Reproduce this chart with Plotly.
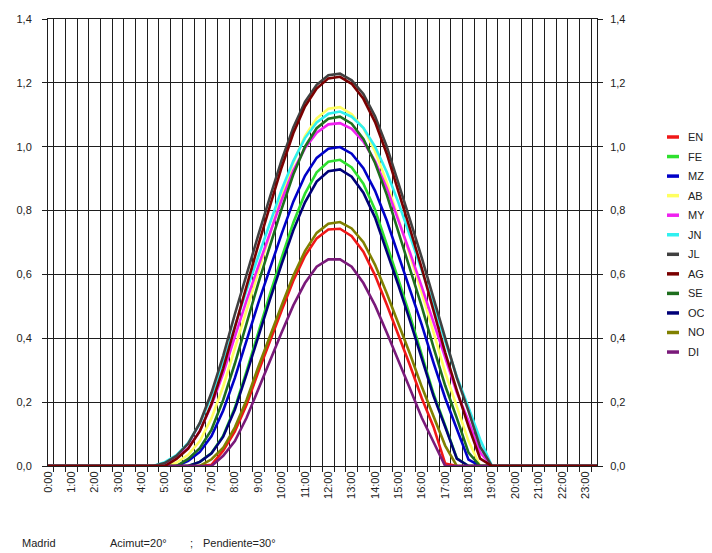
import plotly.graph_objects as go

# Half-hour categories (x axis)
TIMES = ["0:00", "0:30", "1:00", "1:30", "2:00", "2:30", "3:00", "3:30",
         "4:00", "4:30", "5:00", "5:30", "6:00", "6:30", "7:00", "7:30",
         "8:00", "8:30", "9:00", "9:30", "10:00", "10:30", "11:00", "11:30",
         "12:00", "12:30", "13:00", "13:30", "14:00", "14:30", "15:00", "15:30",
         "16:00", "16:30", "17:00", "17:30", "18:00", "18:30", "19:00", "19:30",
         "20:00", "20:30", "21:00", "21:30", "22:00", "22:30", "23:00", "23:30"]
HOUR_LABELS = ["0:00", "1:00", "2:00", "3:00", "4:00", "5:00", "6:00", "7:00",
               "8:00", "9:00", "10:00", "11:00", "12:00", "13:00", "14:00", "15:00",
               "16:00", "17:00", "18:00", "19:00", "20:00", "21:00", "22:00", "23:00"]

Y_TICKS = [0.0, 0.2, 0.4, 0.6, 0.8, 1.0, 1.2, 1.4]

MONTHS = ["EN", "FE", "MZ", "AB", "MY", "JN", "JL", "AG", "SE", "OC", "NO", "DI"]

EN = [0, 0, 0, 0, 0, 0, 0, 0, 0, 0, 0, 0, 0, 0,
      0.004, 0.048, 0.108, 0.192, 0.294, 0.393, 0.487, 0.580, 0.658, 0.713, 0.741, 0.743,
      0.720, 0.671, 0.597, 0.506, 0.412, 0.314, 0.212, 0.123, 0.008,
      0, 0, 0, 0, 0, 0, 0, 0, 0, 0, 0, 0, 0]
FE = [0, 0, 0, 0, 0, 0, 0, 0, 0, 0, 0, 0, 0,
      0.013, 0.041, 0.095, 0.183, 0.297, 0.420, 0.538, 0.652, 0.762, 0.853, 0.920, 0.953,
      0.959, 0.935, 0.884, 0.803, 0.697, 0.584, 0.469, 0.347, 0.227, 0.127, 0.024,
      0, 0, 0, 0, 0, 0, 0, 0, 0, 0, 0, 0]
MZ = [0, 0, 0, 0, 0, 0, 0, 0, 0, 0, 0, 0,
      0.016, 0.044, 0.094, 0.174, 0.276, 0.395, 0.510, 0.618, 0.727, 0.828, 0.909, 0.965,
      0.994, 0.999, 0.978, 0.933, 0.862, 0.769, 0.661, 0.553, 0.442, 0.324, 0.213, 0.116,
      0.020, 0, 0, 0, 0, 0, 0, 0, 0, 0, 0, 0]
AB = [0, 0, 0, 0, 0, 0, 0, 0, 0, 0, 0,
      0.010, 0.035, 0.078, 0.150, 0.249, 0.368, 0.494, 0.613, 0.729, 0.846, 0.951, 1.033,
      1.089, 1.119, 1.124, 1.102, 1.058, 0.986, 0.889, 0.776, 0.659, 0.543, 0.419, 0.293,
      0.186, 0.078, 0, 0, 0, 0, 0, 0, 0, 0, 0, 0, 0]
MY = [0, 0, 0, 0, 0, 0, 0, 0, 0, 0,
      0.005, 0.026, 0.056, 0.110, 0.191, 0.290, 0.405, 0.519, 0.625, 0.730, 0.833, 0.925,
      0.995, 1.044, 1.070, 1.074, 1.056, 1.016, 0.955, 0.871, 0.772, 0.667, 0.561, 0.450,
      0.336, 0.230, 0.141, 0.042, 0, 0, 0, 0, 0, 0, 0, 0, 0, 0]
JN = [0, 0, 0, 0, 0, 0, 0, 0, 0, 0,
      0.012, 0.034, 0.072, 0.133, 0.220, 0.323, 0.438, 0.551, 0.656, 0.761, 0.865, 0.955,
      1.027, 1.076, 1.103, 1.110, 1.094, 1.059, 1.000, 0.921, 0.825, 0.719, 0.614, 0.506,
      0.392, 0.280, 0.183, 0.083, 0, 0, 0, 0, 0, 0, 0, 0, 0, 0]
JL = [0, 0, 0, 0, 0, 0, 0, 0, 0, 0,
      0.009, 0.032, 0.070, 0.135, 0.230, 0.345, 0.476, 0.603, 0.723, 0.842, 0.958, 1.060,
      1.140, 1.194, 1.224, 1.229, 1.208, 1.165, 1.095, 1.001, 0.889, 0.770, 0.652, 0.528,
      0.397, 0.276, 0.172, 0.060, 0, 0, 0, 0, 0, 0, 0, 0, 0, 0]
AG = [0, 0, 0, 0, 0, 0, 0, 0, 0, 0, 0,
      0.022, 0.054, 0.109, 0.195, 0.306, 0.436, 0.569, 0.692, 0.814, 0.935, 1.042, 1.126,
      1.182, 1.214, 1.219, 1.197, 1.150, 1.077, 0.978, 0.863, 0.741, 0.619, 0.490, 0.356,
      0.237, 0.124, 0.023, 0, 0, 0, 0, 0, 0, 0, 0, 0, 0]
SE = [0, 0, 0, 0, 0, 0, 0, 0, 0, 0, 0, 0,
      0.022, 0.056, 0.114, 0.207, 0.321, 0.449, 0.572, 0.689, 0.805, 0.913, 1.000, 1.058,
      1.088, 1.094, 1.072, 1.024, 0.949, 0.850, 0.735, 0.619, 0.499, 0.372, 0.252, 0.150,
      0.042, 0, 0, 0, 0, 0, 0, 0, 0, 0, 0, 0]
OC = [0, 0, 0, 0, 0, 0, 0, 0, 0, 0, 0, 0, 0,
      0.013, 0.040, 0.092, 0.177, 0.288, 0.407, 0.521, 0.632, 0.738, 0.826, 0.891, 0.923,
      0.929, 0.906, 0.856, 0.778, 0.675, 0.566, 0.454, 0.336, 0.220, 0.123, 0.023,
      0, 0, 0, 0, 0, 0, 0, 0, 0, 0, 0, 0]
NO = [0, 0, 0, 0, 0, 0, 0, 0, 0, 0, 0, 0, 0, 0,
      0.021, 0.057, 0.121, 0.207, 0.310, 0.409, 0.503, 0.596, 0.673, 0.730, 0.759, 0.764,
      0.744, 0.701, 0.630, 0.541, 0.446, 0.350, 0.248, 0.153, 0.064,
      0, 0, 0, 0, 0, 0, 0, 0, 0, 0, 0, 0, 0]
DI = [0, 0, 0, 0, 0, 0, 0, 0, 0, 0, 0, 0, 0, 0,
      0, 0.032, 0.078, 0.151, 0.241, 0.332, 0.418, 0.503, 0.573, 0.624, 0.647, 0.647,
      0.624, 0.573, 0.503, 0.418, 0.332, 0.241, 0.151, 0.073,
      0, 0, 0, 0, 0, 0, 0, 0, 0, 0, 0, 0, 0, 0]

SERIES = {"EN": EN, "FE": FE, "MZ": MZ, "AB": AB, "MY": MY, "JN": JN,
          "JL": JL, "AG": AG, "SE": SE, "OC": OC, "NO": NO, "DI": DI}

COLORS = {"EN": "#F01818", "FE": "#2EE02E", "MZ": "#0000C8", "AB": "#FFFF60",
          "MY": "#F020F0", "JN": "#30F0F0", "JL": "#404040", "AG": "#7A0000",
          "SE": "#1E6E1E", "OC": "#000078", "NO": "#808000", "DI": "#7A1A7A"}

DRAW_ORDER = ["EN", "FE", "MZ", "AB", "MY", "JN", "JL", "SE", "OC", "NO", "DI", "AG"]

FONT = "Liberation Sans, Arial, sans-serif"
TXT = "#222222"
GRID = "#1e1e1e"

# the page places the figure 8 px from the window's top-left corner
W, H = 704, 545
L, T, R, B = 40, 11, 115, 87
PW = W - L - R          # plot width
PH = H - T - B          # plot height
OFF = 8


def px_x(x):
    return (x - OFF - L) / PW


def px_y(y):
    return (H - B - (y - OFF)) / PH


fig = go.Figure()
for m in DRAW_ORDER:
    fig.add_trace(go.Scatter(
        x=TIMES, y=SERIES[m], mode="lines", name=m,
        line=dict(color=COLORS[m], width=2.6),
        showlegend=False,
    ))

# invisible trace to carry the right-hand value axis
fig.add_trace(go.Scatter(x=[TIMES[0]], y=[None], yaxis="y2", showlegend=False,
                         hoverinfo="skip", mode="lines"))

tick_text = [t if t in HOUR_LABELS else "" for t in TIMES]

fig.update_layout(
    width=W, height=H,
    paper_bgcolor="white", plot_bgcolor="white",
    margin=dict(l=L, r=R, t=T, b=B, autoexpand=False),
    separators=",.",
    font=dict(family=FONT, size=11, color=TXT),
    showlegend=False,
    xaxis=dict(type="category", categoryorder="array", categoryarray=TIMES,
               tickmode="array", tickvals=TIMES, ticktext=tick_text,
               tickson="boundaries", ticks="outside", ticklen=5, tickcolor=GRID,
               tickangle=-90, showgrid=True, gridcolor=GRID, gridwidth=1,
               showline=True, linecolor=GRID, linewidth=1, mirror=True,
               tickfont=dict(family=FONT, size=11, color=TXT), zeroline=False),
    yaxis=dict(range=[0, 1.4], tickmode="array", tickvals=Y_TICKS, tickformat=".1f",
               showgrid=True, gridcolor=GRID, gridwidth=1, zeroline=False,
               showline=True, linecolor=GRID, linewidth=1,
               ticks="outside", ticklen=5, tickcolor=GRID, ticklabelstandoff=8,
               tickfont=dict(family=FONT, size=11, color=TXT)),
    yaxis2=dict(range=[0, 1.4], overlaying="y", side="right", anchor="x",
                tickmode="array", tickvals=Y_TICKS, tickformat=".1f",
                showgrid=False, zeroline=False,
                showline=True, linecolor=GRID, linewidth=1,
                ticks="outside", ticklen=5, tickcolor=GRID, ticklabelstandoff=5,
                tickfont=dict(family=FONT, size=11, color=TXT)),
)

# legend: short colour sample + month code, top to bottom
LEG_TOP, LEG_STEP = 137, 19.55
for i, m in enumerate(MONTHS):
    yy = px_y(LEG_TOP + i * LEG_STEP)
    fig.add_shape(type="line", xref="paper", yref="paper",
                  x0=px_x(667), x1=px_x(679), y0=yy, y1=yy,
                  line=dict(color=COLORS[m], width=3.5))
    fig.add_annotation(text=m, xref="paper", yref="paper",
                       x=px_x(686), y=yy, xanchor="left", yanchor="middle",
                       showarrow=False, font=dict(family=FONT, size=11, color=TXT))

for text, x0 in [("Madrid", 20), ("Acimut=20°", 108), (";", 188), ("Pendiente=30°", 201)]:
    fig.add_annotation(text=text, xref="paper", yref="paper",
                       x=px_x(x0), y=px_y(543),
                       xanchor="left", yanchor="middle", showarrow=False,
                       font=dict(family=FONT, size=11, color=TXT))

fig.write_html("out.html")
